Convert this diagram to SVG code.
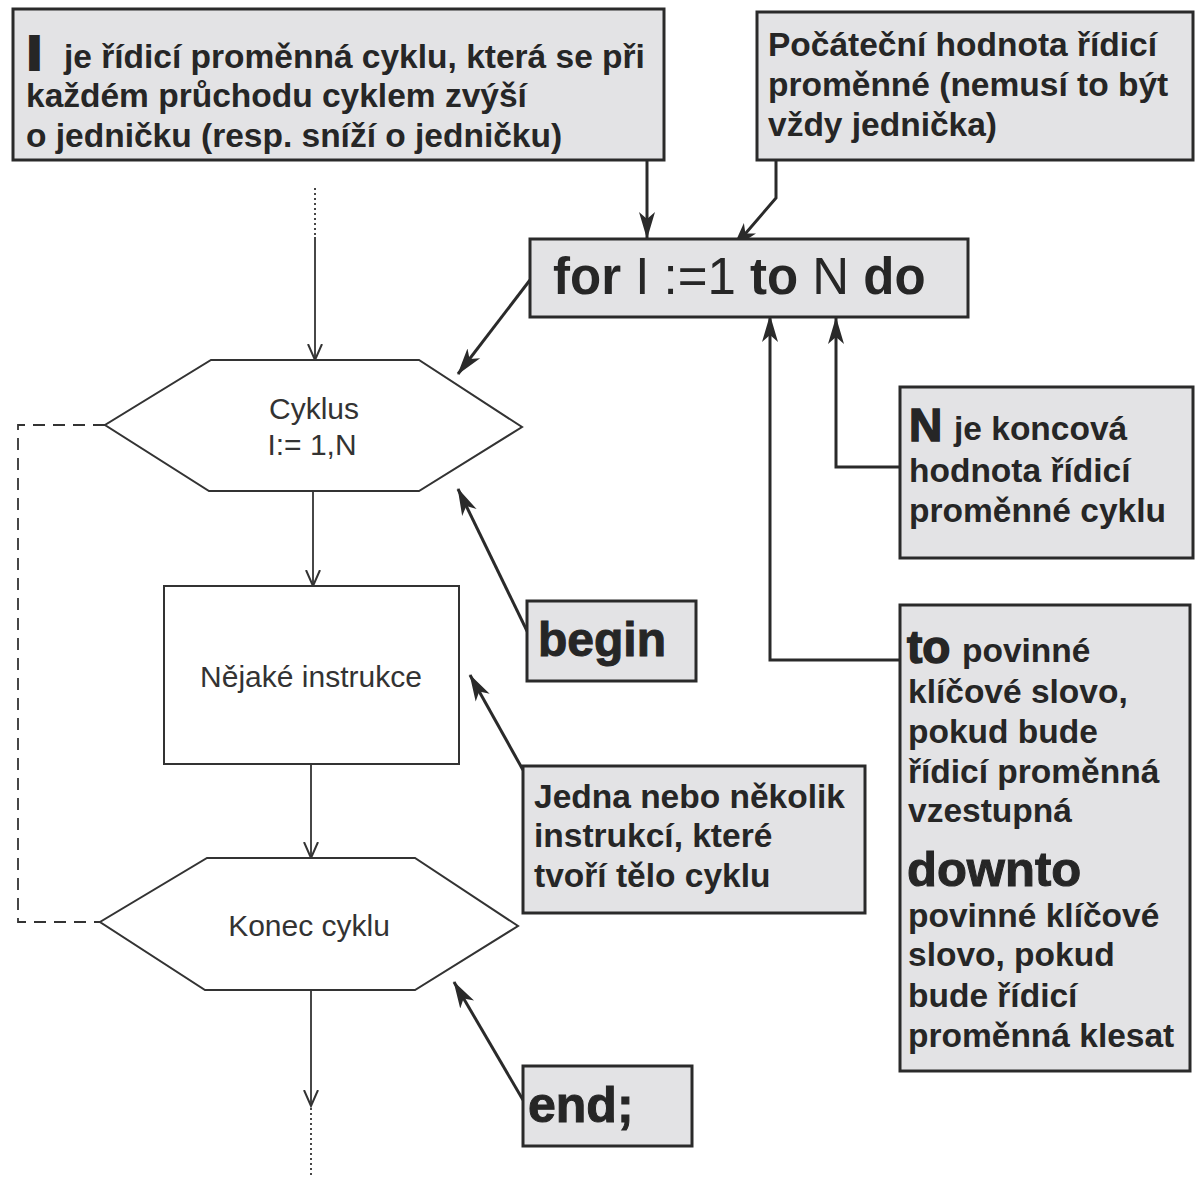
<svg xmlns="http://www.w3.org/2000/svg" width="1199" height="1178" viewBox="0 0 1199 1178">
  <style>
    .callout { fill: #e3e3e5; stroke: #2a2a2a; stroke-width: 3; }
    .shape { fill: #ffffff; stroke: #333333; stroke-width: 2; }
    .note { font-family: "Liberation Sans", Arial, sans-serif; font-weight: bold; font-size: 33.5px; fill: #262626; }
    .big { font-size: 46px; stroke: #262626; stroke-width: 1.5; }
    .label { font-family: "Liberation Sans", Arial, sans-serif; font-size: 30px; fill: #333333; text-anchor: middle; }
    .code { font-family: "Liberation Sans", Arial, sans-serif; font-size: 51px; fill: #262626; }
    .kw { font-weight: bold; }
    .pointer { fill: none; stroke: #2a2a2a; stroke-width: 3; marker-end: url(#head); }
    .flow { fill: none; stroke: #333333; stroke-width: 1.8; }
    .flow-arrow { marker-end: url(#vee); }
    .dotted { fill: none; stroke: #333333; stroke-width: 1.8; stroke-dasharray: 2 3; }
    .dashed { fill: none; stroke: #333333; stroke-width: 1.8; stroke-dasharray: 12 8; }
  </style>
  <defs>
    <marker id="head" markerUnits="userSpaceOnUse" markerWidth="28" markerHeight="18" refX="26" refY="9" orient="auto">
      <path d="M0,1 L27,9 L0,17 L7,9 z" fill="#2a2a2a"/>
    </marker>
    <marker id="vee" markerUnits="userSpaceOnUse" markerWidth="18" markerHeight="16" refX="16" refY="8" orient="auto">
      <path d="M0,1 L16,8 L0,15" fill="none" stroke="#333333" stroke-width="2"/>
    </marker>
  </defs>

  <rect width="1199" height="1178" fill="#ffffff"/>

  <!-- connectors -->
  <g id="connectors">
    <!-- flow of the loop -->
    <line class="dotted" x1="315" y1="188" x2="315" y2="237"/>
    <line class="flow flow-arrow" x1="315" y1="237" x2="315" y2="360"/>
    <line class="flow flow-arrow" x1="313" y1="491" x2="313" y2="586"/>
    <line class="flow flow-arrow" x1="311" y1="764" x2="311" y2="858"/>
    <line class="flow flow-arrow" x1="311" y1="990" x2="311" y2="1106"/>
    <line class="dotted" x1="311" y1="1108" x2="311" y2="1178"/>
    <polyline class="dashed" points="105,425 18,425 18,922 100,922"/>
    <!-- explanatory pointers -->
    <line class="pointer" x1="647" y1="160" x2="647" y2="238"/>
    <polyline class="pointer" points="776,160 776,198 733,248"/>
    <line class="pointer" x1="530" y1="280" x2="458" y2="374"/>
    <polyline class="pointer" points="900,467 836,467 836,318"/>
    <polyline class="pointer" points="900,660 770,660 770,316"/>
    <line class="pointer" x1="528" y1="633" x2="458" y2="489"/>
    <line class="pointer" x1="523" y1="770" x2="470" y2="675"/>
    <line class="pointer" x1="523" y1="1100" x2="454" y2="982"/>
  </g>

  <!-- flowchart -->
  <g id="loop-start">
    <polygon class="shape" points="211,360 419,360 522,427 419,491 209,491 105,425"/>
    <text class="label" x="314" y="419">Cyklus</text>
    <text class="label" x="312" y="455">I:= 1,N</text>
  </g>
  <g id="loop-body">
    <rect class="shape" x="164" y="586" width="295" height="178"/>
    <text class="label" x="311" y="687">Nějaké instrukce</text>
  </g>
  <g id="loop-end">
    <polygon class="shape" points="207,858 415,858 518,926 415,990 205,990 100,922"/>
    <text class="label" x="309" y="936">Konec cyklu</text>
  </g>

  <!-- notes -->
  <g id="note-variable">
    <rect class="callout" x="13" y="9" width="651" height="151"/>
    <text class="note"><tspan class="big" x="28" y="69" style="stroke-width:4">I</tspan><tspan x="64" y="68">je řídicí proměnná cyklu, která se při</tspan><tspan x="26" y="107">každém průchodu cyklem zvýší</tspan><tspan x="26" y="147">o jedničku (resp. sníží o jedničku)</tspan></text>
  </g>
  <g id="note-initial">
    <rect class="callout" x="757" y="12" width="436" height="148"/>
    <text class="note"><tspan x="768" y="56">Počáteční hodnota řídicí</tspan><tspan x="768" y="96">proměnné (nemusí to být</tspan><tspan x="768" y="136">vždy jednička)</tspan></text>
  </g>
  <g id="for-header">
    <rect class="callout" x="530" y="239" width="438" height="78"/>
    <text class="code" x="553" y="294"><tspan class="kw">for</tspan> I :=1 <tspan class="kw">to</tspan> N <tspan class="kw">do</tspan></text>
  </g>
  <g id="note-final">
    <rect class="callout" x="900" y="387" width="293" height="171"/>
    <text class="note"><tspan class="big" x="909" y="441">N</tspan><tspan x="954" y="440">je koncová</tspan><tspan x="909" y="482">hodnota řídicí</tspan><tspan x="909" y="522">proměnné cyklu</tspan></text>
  </g>
  <g id="note-begin">
    <rect class="callout" x="527" y="601" width="169" height="80"/>
    <text class="note" x="538" y="656" style="font-size:48px;stroke:#262626;stroke-width:1">begin</text>
  </g>
  <g id="note-to-downto">
    <rect class="callout" x="900" y="605" width="290" height="466"/>
    <text class="note"><tspan class="big" x="907" y="663">to</tspan><tspan x="962" y="662">povinné</tspan><tspan x="908" y="703">klíčové slovo,</tspan><tspan x="908" y="743">pokud bude</tspan><tspan x="908" y="783">řídicí proměnná</tspan><tspan x="908" y="822">vzestupná</tspan><tspan x="907" y="886" style="font-size:49px;stroke:#262626;stroke-width:1">downto</tspan><tspan x="908" y="927">povinné klíčové</tspan><tspan x="908" y="966">slovo, pokud</tspan><tspan x="908" y="1007">bude řídicí</tspan><tspan x="908" y="1047">proměnná klesat</tspan></text>
  </g>
  <g id="note-body">
    <rect class="callout" x="523" y="766" width="342" height="147"/>
    <text class="note"><tspan x="534" y="808">Jedna nebo několik</tspan><tspan x="534" y="847">instrukcí, které</tspan><tspan x="534" y="887">tvoří tělo cyklu</tspan></text>
  </g>
  <g id="note-end">
    <rect class="callout" x="523" y="1066" width="169" height="80"/>
    <text class="note" x="528" y="1122" style="font-size:50px;stroke:#262626;stroke-width:1">end;</text>
  </g>
</svg>
